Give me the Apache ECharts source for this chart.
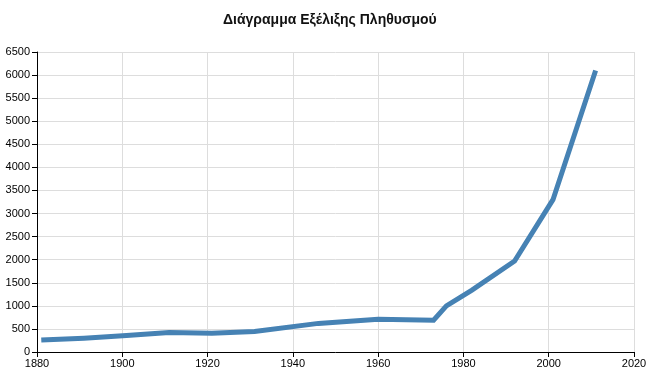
<!DOCTYPE html>
<html><head><meta charset="utf-8">
<script src="https://cdn.jsdelivr.net/npm/echarts@6/dist/echarts.min.js"></script>
<style>html,body{margin:0;padding:0;background:#fff}#c{width:672px;height:392px}</style>
</head><body><div id="c"></div>
<script>
const titleText = 'Διάγραμμα Εξέλιξης Πληθυσμού';
const years = [1881, 1891, 1901, 1911, 1921, 1931, 1946, 1960, 1973, 1976, 1982, 1992, 2001, 2011];
const population = [260, 300, 355, 425, 405, 445, 620, 712, 690, 1000, 1340, 1970, 3300, 6100];
const xTicks = [1880, 1900, 1920, 1940, 1960, 1980, 2000, 2020];
const yTicks = [0, 500, 1000, 1500, 2000, 2500, 3000, 3500, 4000, 4500, 5000, 5500, 6000, 6500];

const chart = echarts.init(document.getElementById('c'), null, {renderer: 'canvas'});
const font = 'Arial, "Liberation Sans", sans-serif';
chart.setOption({
  animation: false,
  title: {text: titleText, left: 218, top: 8,
    textStyle: {fontFamily: font, fontSize: 14, fontWeight: 'bold', color: '#111'}},
  grid: {left: 37, right: 38, top: 52, bottom: 40, containLabel: false},
  xAxis: {type: 'value', min: xTicks[0], max: xTicks[xTicks.length - 1], interval: 20,
    axisLine: {lineStyle: {color: '#000', width: 1}},
    axisTick: {show: true, length: 5, lineStyle: {color: '#000'}},
    axisLabel: {fontFamily: font, fontSize: 11, color: '#000', margin: 6, formatter: v => String(v)},
    splitLine: {show: true, lineStyle: {color: '#ddd', width: 1}}},
  yAxis: {type: 'value', min: yTicks[0], max: yTicks[yTicks.length - 1], interval: 500,
    axisLine: {show: true, lineStyle: {color: '#000', width: 1}},
    axisTick: {show: true, length: 5, lineStyle: {color: '#000'}},
    axisLabel: {fontFamily: font, fontSize: 11, color: '#000', margin: 7, formatter: v => String(v)},
    splitLine: {show: true, lineStyle: {color: '#ddd', width: 1}}},
  series: [{type: 'line', data: years.map((y, i) => [y, population[i]]),
    showSymbol: false, lineStyle: {color: '#4682b4', width: 5, join: 'miter'},
    itemStyle: {color: '#4682b4'}}]
});
</script></body></html>
